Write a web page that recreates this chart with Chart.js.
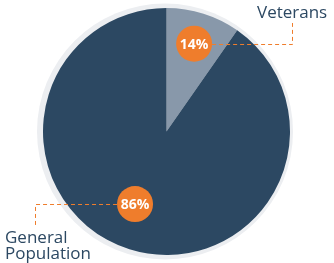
<!DOCTYPE html>
<html>
<head>
<meta charset="utf-8">
<script src="https://cdn.jsdelivr.net/npm/chart.js@4"></script>
<style>
  html, body { margin: 0; padding: 0; background: #fff; }
  #wrap { position: relative; width: 334px; height: 263px; }
</style>
</head>
<body>
<div id="wrap"><canvas id="pie"></canvas></div>
<script>
// data
const categories = ['Veterans', 'General Population'];
const pctLabels = ['14%', '86%'];
// slice sizes as drawn in the artwork (the small slice is drawn narrower than its label)
const sliceValues = [9.7, 90.3];

const COL_DARK = '#2c4862';
const COL_LIGHT = '#8898aa';
const COL_ORANGE = '#ef7d2c';
const COL_RING = '#eceef1';
const FONT = '"Open Sans", sans-serif';

// ring behind the pie
const ringPlugin = {
  id: 'ring',
  beforeDatasetsDraw(chart) {
    const arc = chart.getDatasetMeta(0).data[0];
    if (!arc) return;
    const ctx = chart.ctx;
    ctx.save();
    ctx.fillStyle = COL_RING;
    ctx.beginPath();
    ctx.arc(arc.x - 1.5, arc.y, arc.outerRadius + 4.5, 0, Math.PI * 2);
    ctx.fill();
    ctx.restore();
  }
};

// orange badges, dashed leaders, category names
const calloutPlugin = {
  id: 'callouts',
  afterDatasetsDraw(chart, args, opts) {
    const ctx = chart.ctx;
    const arcs = chart.getDatasetMeta(0).data;
    opts.items.forEach((it, i) => {
      const arc = arcs[i];
      const a = (arc.startAngle + arc.endAngle) / 2 + it.angleShift * Math.PI / 180;
      const r = arc.outerRadius * it.radius;
      const cx = arc.x + Math.cos(a) * r;
      const cy = arc.y + Math.sin(a) * r;

      // leader
      ctx.save();
      ctx.strokeStyle = COL_ORANGE;
      ctx.lineWidth = 1;
      ctx.setLineDash([4, 3]);
      ctx.beginPath();
      ctx.moveTo(cx + it.side * 18, Math.round(cy) + 0.5);
      ctx.lineTo(it.elbowX + 0.5, Math.round(cy) + 0.5);
      ctx.lineTo(it.elbowX + 0.5, it.endY);
      ctx.stroke();
      ctx.restore();

      // badge
      ctx.save();
      ctx.fillStyle = COL_ORANGE;
      ctx.beginPath();
      ctx.arc(cx, cy, 18, 0, Math.PI * 2);
      ctx.fill();
      ctx.fillStyle = '#fff';
      ctx.font = 'bold 14px ' + FONT;
      ctx.textAlign = 'center';
      ctx.textBaseline = 'middle';
      ctx.fillText(pctLabels[i], cx, cy + 1);
      ctx.restore();

      // name
      ctx.save();
      ctx.fillStyle = COL_DARK;
      ctx.font = '17px ' + FONT;
      ctx.textAlign = 'left';
      ctx.textBaseline = 'alphabetic';
      it.lines.forEach((ln, k) => ctx.fillText(ln, it.textX, it.textY + k * 16));
      ctx.restore();
    });
  }
};

new Chart(document.getElementById('pie'), {
  type: 'pie',
  data: {
    labels: categories,
    datasets: [{
      data: sliceValues,
      backgroundColor: [COL_LIGHT, COL_DARK],
      borderWidth: 0,
      hoverOffset: 0
    }]
  },
  options: {
    responsive: true,
    maintainAspectRatio: false,
    animation: false,
    layout: { padding: { left: 43, right: 44, top: 8, bottom: 8 } },
    plugins: {
      legend: { display: false },
      tooltip: { enabled: false },
      callouts: {
        items: [
          { radius: 0.745, angleShift: 0, side: 1, elbowX: 292, endY: 23,
            lines: ['Veterans'], textX: 257, textY: 18 },
          { radius: 0.64, angleShift: 6, side: -1, elbowX: 35, endY: 225,
            lines: ['General', 'Population'], textX: 5, textY: 243 }
        ]
      }
    }
  },
  plugins: [ringPlugin, calloutPlugin]
});
</script>
</body>
</html>
